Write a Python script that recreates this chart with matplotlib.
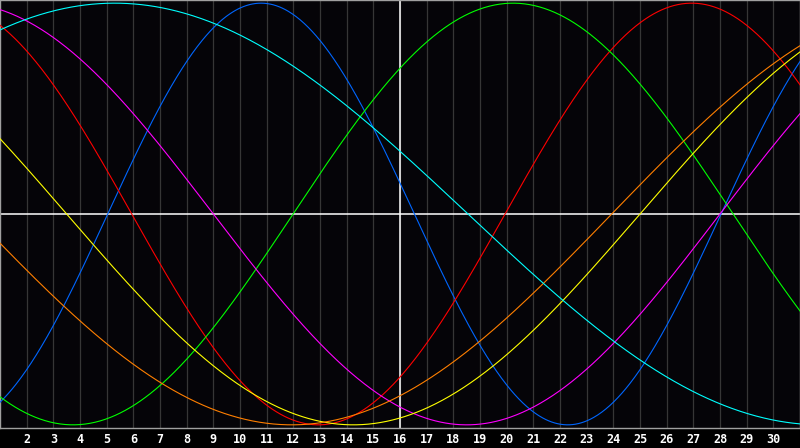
"""Biorhythm-style chart: seven sine cycles over a 31-day month."""

import matplotlib

matplotlib.use("Agg")
import matplotlib.pyplot as plt  # noqa: E402
import numpy as np  # noqa: E402

# --- data ------------------------------------------------------------------
DAY_FIRST, DAY_LAST = 1, 31
TICK_DAYS = list(range(2, 31))
MARKER_DAY = 16                      # white vertical line

cycle_names = ["physical", "emotional", "intellectual", "intuitive",
               "aesthetic", "awareness", "spiritual"]
periods = [23, 28, 33, 38, 43, 48, 53]                       # days
peak_days = [10.79, 26.94, 20.24, -0.5, -7.25, -12.06, 5.3]  # day of a maximum
colors = ["#0066ff", "#ff0000", "#00ff00", "#ff00ff", "#ffff00", "#ff7f00", "#00ffff"]

BG = "#050408"
GRID = "#363636"
BORDER = "#a0a0a0"


def main() -> None:
    fig = plt.figure(figsize=(8.0, 4.48), dpi=100, facecolor="black")
    ax = fig.add_axes([0.0, 20 / 448, 1.0, 428 / 448])
    ax.set_facecolor(BG)

    days = np.linspace(DAY_FIRST, DAY_LAST, 800)
    for name, p, pk, c in zip(cycle_names, periods, peak_days, colors):
        ax.plot(days, np.cos(2 * np.pi * (days - pk) / p), color=c, lw=0.8,
                label=name, zorder=3)

    for d in TICK_DAYS:
        ax.axvline(d, color=GRID, lw=0.9, zorder=1)
    ax.axvline(MARKER_DAY, color="white", lw=1.1, zorder=2)
    ax.axhline(0, color="white", lw=1.1, zorder=2)

    ax.set_xlim(DAY_FIRST, DAY_LAST)
    ax.set_ylim(-1.015, 1.015)
    ax.set_xticks(TICK_DAYS)
    ax.set_xticklabels([str(d) for d in TICK_DAYS], fontsize=8.5,
                       fontweight="bold", family="DejaVu Sans Mono")
    ax.set_yticks([])
    ax.tick_params(axis="x", length=0, colors="white", pad=3.5)
    for s in ax.spines.values():
        s.set_color(BORDER)
        s.set_linewidth(1.0)

    fig.savefig("out.png", dpi=100, facecolor="black")


if __name__ == "__main__":
    main()
